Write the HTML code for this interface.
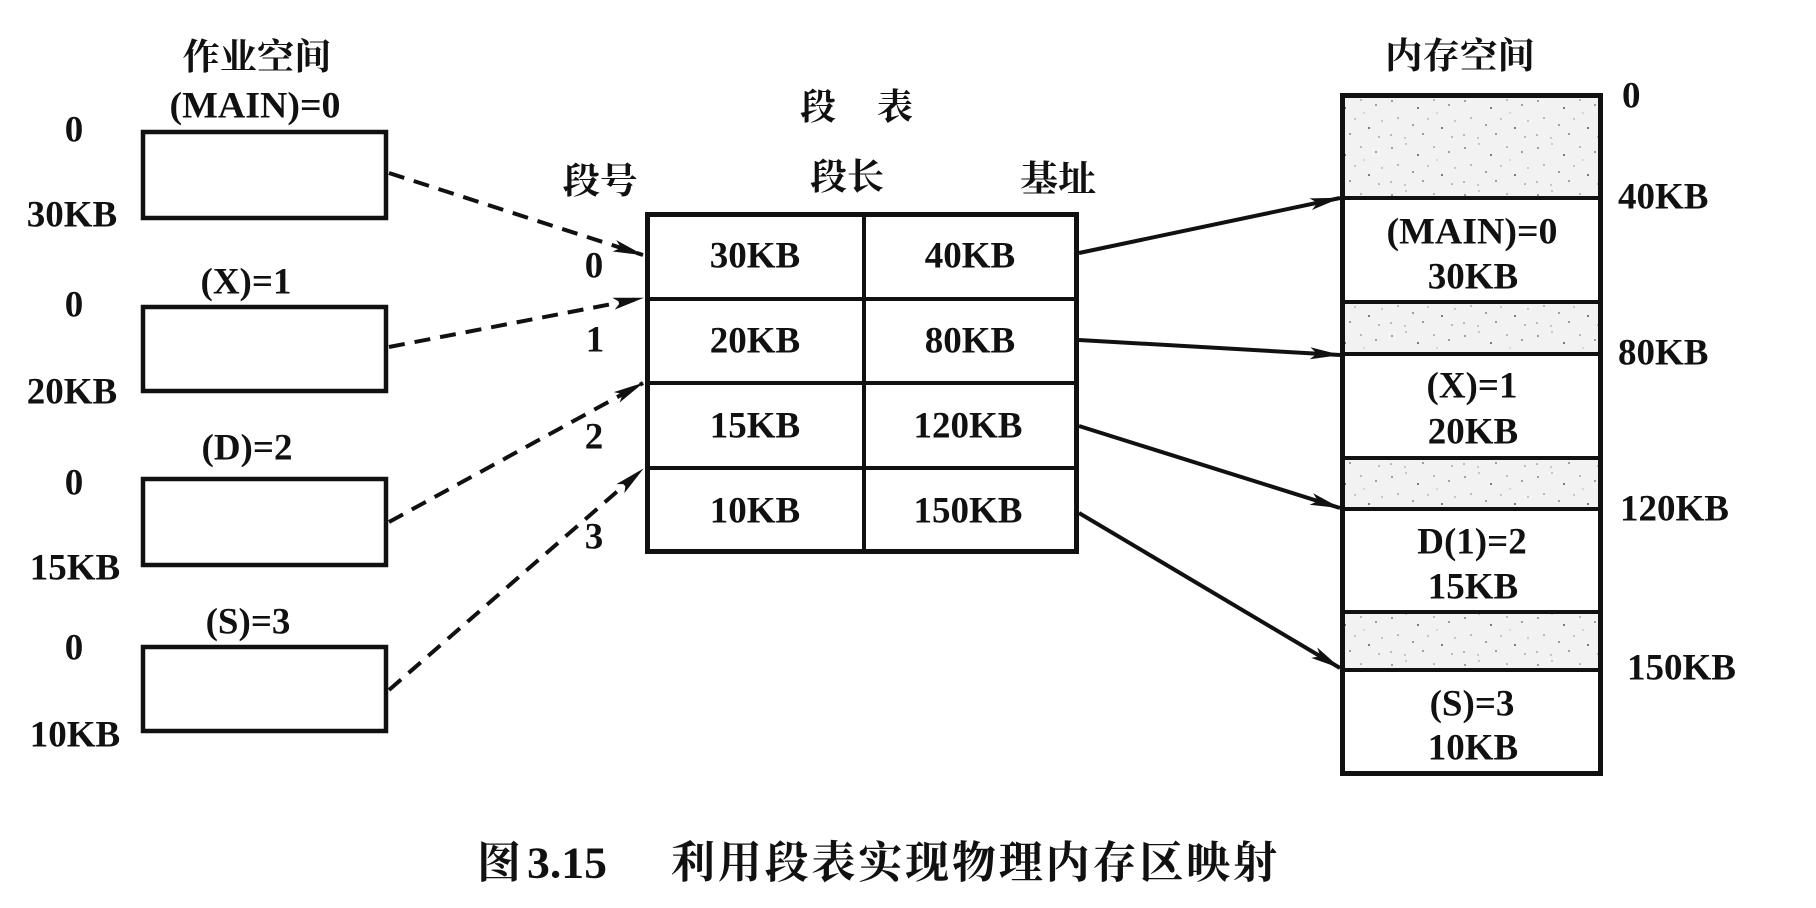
<!DOCTYPE html>
<html>
<head>
<meta charset="utf-8">
<style>
  html, body { margin: 0; padding: 0; background: #ffffff; }
  body { width: 1816px; height: 908px; overflow: hidden; }
  svg { display: block; }
  .t { font-family: "Liberation Serif", "Noto Serif CJK SC", serif; font-weight: bold; font-size: 37px; fill: #111; }
  .c { font-family: "Liberation Serif", "Noto Serif CJK SC", serif; font-weight: bold; font-size: 36px; fill: #111; }
  .cap { font-family: "Liberation Serif", "Noto Serif CJK SC", serif; font-weight: bold; font-size: 44px; fill: #111; }
</style>
</head>
<body>
<svg width="1816" height="908" viewBox="0 0 1816 908" xmlns="http://www.w3.org/2000/svg">
  <defs>
    <pattern id="dots" width="73" height="47" patternUnits="userSpaceOnUse">
      <rect width="73" height="47" fill="#f2f2f2"/>
      <circle cx="5" cy="7" r="0.9" fill="#666"/>
      <circle cx="19" cy="3" r="0.7" fill="#888"/>
      <circle cx="31" cy="14" r="1" fill="#555"/>
      <circle cx="47" cy="6" r="0.8" fill="#777"/>
      <circle cx="62" cy="11" r="0.9" fill="#666"/>
      <circle cx="11" cy="24" r="0.8" fill="#777"/>
      <circle cx="26" cy="31" r="0.9" fill="#666"/>
      <circle cx="41" cy="25" r="0.7" fill="#888"/>
      <circle cx="55" cy="34" r="1" fill="#555"/>
      <circle cx="68" cy="27" r="0.7" fill="#888"/>
      <circle cx="4" cy="41" r="0.8" fill="#777"/>
      <circle cx="18" cy="44" r="0.7" fill="#888"/>
      <circle cx="36" cy="40" r="0.9" fill="#666"/>
      <circle cx="50" cy="19" r="0.6" fill="#999"/>
      <circle cx="65" cy="43" r="0.8" fill="#777"/>
    </pattern>
    <marker id="ah" viewBox="0 -7 32 14" refX="30" refY="0" markerWidth="32" markerHeight="14" orient="auto" markerUnits="userSpaceOnUse">
      <path d="M0,-6 L31,0 L0,6 L7,0 Z" fill="#111"/>
    </marker>
  </defs>

  <!-- ===== Left: job space ===== -->
  <text class="c" x="257" y="57" text-anchor="middle" dominant-baseline="central" textLength="149" lengthAdjust="spacingAndGlyphs">作业空间</text>
  <text class="t" x="255" y="106" text-anchor="middle" dominant-baseline="central" textLength="171" lengthAdjust="spacingAndGlyphs">(MAIN)=0</text>

  <text class="t" x="74" y="130" text-anchor="middle" dominant-baseline="central">0</text>
  <text class="t" x="72" y="215" text-anchor="middle" dominant-baseline="central">30KB</text>
  <rect x="143" y="132" width="243" height="86" fill="none" stroke="#111" stroke-width="4.5"/>

  <text class="t" x="246" y="282" text-anchor="middle" dominant-baseline="central">(X)=1</text>
  <text class="t" x="74" y="305" text-anchor="middle" dominant-baseline="central">0</text>
  <text class="t" x="72" y="392" text-anchor="middle" dominant-baseline="central">20KB</text>
  <rect x="143" y="307" width="243" height="84" fill="none" stroke="#111" stroke-width="4.5"/>

  <text class="t" x="247" y="448" text-anchor="middle" dominant-baseline="central">(D)=2</text>
  <text class="t" x="74" y="483" text-anchor="middle" dominant-baseline="central">0</text>
  <text class="t" x="75" y="568" text-anchor="middle" dominant-baseline="central">15KB</text>
  <rect x="143" y="479" width="243" height="86" fill="none" stroke="#111" stroke-width="4.5"/>

  <text class="t" x="248" y="622" text-anchor="middle" dominant-baseline="central">(S)=3</text>
  <text class="t" x="74" y="648" text-anchor="middle" dominant-baseline="central">0</text>
  <text class="t" x="75" y="735" text-anchor="middle" dominant-baseline="central">10KB</text>
  <rect x="143" y="647" width="243" height="84" fill="none" stroke="#111" stroke-width="4.5"/>

  <!-- ===== Middle: segment table ===== -->
  <text class="c" x="818" y="107" text-anchor="middle" dominant-baseline="central">段</text>
  <text class="c" x="895" y="107" text-anchor="middle" dominant-baseline="central">表</text>
  <text class="c" x="600" y="181" text-anchor="middle" dominant-baseline="central" textLength="75" lengthAdjust="spacingAndGlyphs">段号</text>
  <text class="c" x="847" y="177" text-anchor="middle" dominant-baseline="central" textLength="74" lengthAdjust="spacingAndGlyphs">段长</text>
  <text class="c" x="1058" y="179" text-anchor="middle" dominant-baseline="central" textLength="76" lengthAdjust="spacingAndGlyphs">基址</text>

  <rect x="647.5" y="214.5" width="429" height="337" fill="none" stroke="#111" stroke-width="5"/>
  <line x1="647" y1="299" x2="1077" y2="299" stroke="#111" stroke-width="4"/>
  <line x1="647" y1="383" x2="1077" y2="383" stroke="#111" stroke-width="4"/>
  <line x1="647" y1="468" x2="1077" y2="468" stroke="#111" stroke-width="4"/>
  <line x1="864" y1="214" x2="864" y2="552" stroke="#111" stroke-width="4"/>

  <text class="t" x="755" y="256" text-anchor="middle" dominant-baseline="central">30KB</text>
  <text class="t" x="970" y="256" text-anchor="middle" dominant-baseline="central">40KB</text>
  <text class="t" x="755" y="341" text-anchor="middle" dominant-baseline="central">20KB</text>
  <text class="t" x="970" y="341" text-anchor="middle" dominant-baseline="central">80KB</text>
  <text class="t" x="755" y="426" text-anchor="middle" dominant-baseline="central">15KB</text>
  <text class="t" x="968" y="426" text-anchor="middle" dominant-baseline="central">120KB</text>
  <text class="t" x="755" y="511" text-anchor="middle" dominant-baseline="central">10KB</text>
  <text class="t" x="968" y="511" text-anchor="middle" dominant-baseline="central">150KB</text>

  <text class="t" x="594" y="266" text-anchor="middle" dominant-baseline="central">0</text>
  <text class="t" x="595" y="340" text-anchor="middle" dominant-baseline="central">1</text>
  <text class="t" x="594" y="437" text-anchor="middle" dominant-baseline="central">2</text>
  <text class="t" x="594" y="537" text-anchor="middle" dominant-baseline="central">3</text>

  <!-- dashed arrows: job space -> table -->
  <g stroke="#111" stroke-width="4" fill="none" stroke-dasharray="16 10">
    <line x1="389" y1="173" x2="643" y2="255" marker-end="url(#ah)"/>
    <line x1="389" y1="347" x2="643" y2="298" marker-end="url(#ah)"/>
    <line x1="389" y1="522" x2="643" y2="383" marker-end="url(#ah)"/>
    <line x1="389" y1="690" x2="643" y2="469" marker-end="url(#ah)"/>
  </g>

  <!-- ===== Right: memory space ===== -->
  <text class="c" x="1460" y="56" text-anchor="middle" dominant-baseline="central" textLength="150" lengthAdjust="spacingAndGlyphs">内存空间</text>

  <rect x="1342" y="95" width="259" height="103" fill="url(#dots)"/>
  <rect x="1342" y="302" width="259" height="52" fill="url(#dots)"/>
  <rect x="1342" y="458" width="259" height="51" fill="url(#dots)"/>
  <rect x="1342" y="612" width="259" height="58" fill="url(#dots)"/>

  <rect x="1342.5" y="95.5" width="258" height="678" fill="none" stroke="#111" stroke-width="5"/>
  <g stroke="#111" stroke-width="4">
    <line x1="1342" y1="198" x2="1601" y2="198"/>
    <line x1="1342" y1="302" x2="1601" y2="302"/>
    <line x1="1342" y1="354" x2="1601" y2="354"/>
    <line x1="1342" y1="458" x2="1601" y2="458"/>
    <line x1="1342" y1="509" x2="1601" y2="509"/>
    <line x1="1342" y1="612" x2="1601" y2="612"/>
    <line x1="1342" y1="670" x2="1601" y2="670"/>
  </g>

  <text class="t" x="1472" y="232" text-anchor="middle" dominant-baseline="central" textLength="171" lengthAdjust="spacingAndGlyphs">(MAIN)=0</text>
  <text class="t" x="1473" y="277" text-anchor="middle" dominant-baseline="central">30KB</text>
  <text class="t" x="1472" y="386" text-anchor="middle" dominant-baseline="central">(X)=1</text>
  <text class="t" x="1473" y="432" text-anchor="middle" dominant-baseline="central">20KB</text>
  <text class="t" x="1472" y="542" text-anchor="middle" dominant-baseline="central">D(1)=2</text>
  <text class="t" x="1473" y="587" text-anchor="middle" dominant-baseline="central">15KB</text>
  <text class="t" x="1472" y="704" text-anchor="middle" dominant-baseline="central">(S)=3</text>
  <text class="t" x="1473" y="748" text-anchor="middle" dominant-baseline="central">10KB</text>

  <text class="t" x="1622" y="96" dominant-baseline="central">0</text>
  <text class="t" x="1618" y="197" dominant-baseline="central">40KB</text>
  <text class="t" x="1618" y="353" dominant-baseline="central">80KB</text>
  <text class="t" x="1620" y="509" dominant-baseline="central">120KB</text>
  <text class="t" x="1627" y="668" dominant-baseline="central">150KB</text>

  <!-- solid arrows: table -> memory -->
  <g stroke="#111" stroke-width="4" fill="none">
    <line x1="1079" y1="253" x2="1340" y2="198" marker-end="url(#ah)"/>
    <line x1="1079" y1="340" x2="1340" y2="355" marker-end="url(#ah)"/>
    <line x1="1079" y1="426" x2="1340" y2="508" marker-end="url(#ah)"/>
    <line x1="1079" y1="513" x2="1340" y2="668" marker-end="url(#ah)"/>
  </g>

  <!-- ===== Caption ===== -->
  <text class="cap" x="477" y="863" dominant-baseline="central">图</text>
  <text class="cap" x="527" y="863" dominant-baseline="central" textLength="80" lengthAdjust="spacingAndGlyphs">3.15</text>
  <text class="cap" x="671" y="863" dominant-baseline="central" textLength="606" lengthAdjust="spacing">利用段表实现物理内存区映射</text>
</svg>
</body>
</html>
